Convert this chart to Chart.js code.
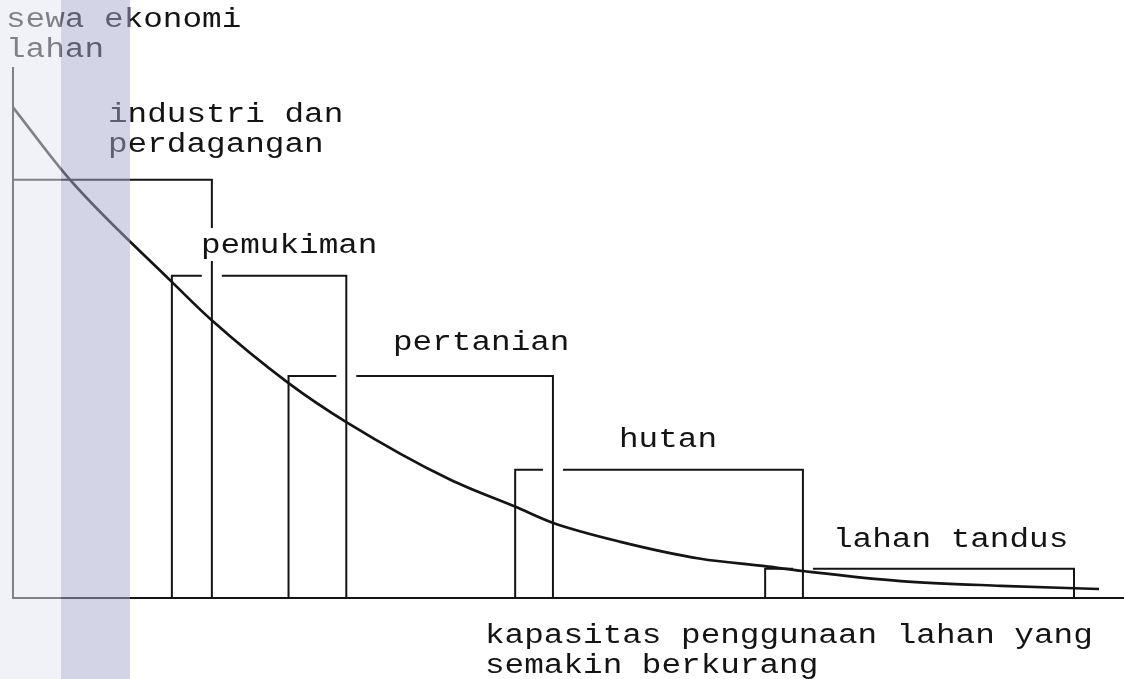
<!DOCTYPE html>
<html>
<head>
<meta charset="utf-8">
<title>sewa ekonomi lahan</title>
<script src="https://cdn.jsdelivr.net/npm/chart.js"></script>
<style>
  html, body { margin: 0; padding: 0; background: #fff; }
  #wrap { width: 1124px; height: 679px; }
</style>
</head>
<body>
<div id="wrap"><canvas id="rentChart" width="1124" height="679"></canvas></div>
<script>
// land uses from the city centre outwards
const landUses = ['industri dan perdagangan', 'pemukiman', 'pertanian', 'hutan', 'lahan tandus'];
const landUseLines = [['industri dan', 'perdagangan'], ['pemukiman'], ['pertanian'], ['hutan'], ['lahan tandus']];

// bid-rent blocks (x = distance, y = rent, both 0..100)
const barLeft  = [0, 14.3, 24.8, 45.2, 67.7];
const barRight = [17.9, 30.0, 48.6, 71.1, 95.5];
const barTop   = [78.9, 60.8, 41.9, 24.2, 5.5];

// economic rent curve
const curveX = [0, 5.14, 14.32, 17.84, 24.77, 30.0, 39.37, 45.23, 48.56, 54.68, 61.89, 67.66, 71.08, 79.91, 88.92, 97.75];
const curveY = [92.6, 78.9, 59.6, 52.5, 40.6, 33.2, 22.3, 17.2, 14.2, 10.6, 7.4, 6.0, 5.1, 3.2, 2.3, 1.7];

const yTitle = ['sewa ekonomi', 'lahan'];
const xTitle = ['kapasitas penggunaan lahan yang', 'semakin berkurang'];

// layout of the text (left edge, first baseline) in canvas pixels
const landUseAnchor = [[110, 122], [203, 253], [395, 350], [621, 447], [835, 547]];
const yTitleAnchor = [8, 27];
const xTitleAnchor = [487, 643];
const LINE_GAP = 30;
const FONT = '27px "Liberation Mono", "DejaVu Sans Mono", monospace';
const TEXT_STRETCH = 1.21;
const INK = '#141414';
const GAP = 0.9; // half width of the break in a block's top edge

// outline of each block, top edge broken where the previous block's side passes
function blockPoints(i) {
    const pts = [{x: barLeft[i], y: 0}, {x: barLeft[i], y: barTop[i]}];
    if (i > 0) {
        const cut = barRight[i - 1];
        pts.push({x: cut - GAP, y: barTop[i]});
        pts.push({x: cut, y: null});
        pts.push({x: cut + GAP, y: barTop[i]});
    }
    pts.push({x: barRight[i], y: barTop[i]});
    pts.push({x: barRight[i], y: 0});
    return pts;
}

const datasets = landUses.map((name, i) => ({
    label: name,
    data: blockPoints(i),
    borderColor: INK,
    borderWidth: 2,
    pointRadius: 0,
    tension: 0,
    spanGaps: false,
    borderJoinStyle: 'miter',
    borderCapStyle: 'butt'
}));

datasets.push({
    label: 'sewa ekonomi',
    data: curveX.map((x, i) => ({x, y: curveY[i]})),
    borderColor: INK,
    borderWidth: 2.7,
    pointRadius: 0,
    cubicInterpolationMode: 'monotone'
});

function stretchText(ctx, str, x, y) {
    ctx.save();
    ctx.translate(x, y);
    ctx.scale(TEXT_STRETCH, 1);
    ctx.fillText(str, 0, 0);
    ctx.restore();
}

function drawBlock(ctx, lines, x, y) {
    ctx.font = FONT;
    lines.forEach((line, k) => {
        const w = ctx.measureText(line).width * TEXT_STRETCH;
        ctx.fillStyle = '#fff';
        ctx.fillRect(x - 2, y + k * LINE_GAP - 25, w + 4, 33);
    });
    ctx.fillStyle = INK;
    ctx.textBaseline = 'alphabetic';
    lines.forEach((line, k) => stretchText(ctx, line, x - 2, y + k * LINE_GAP));
}

const textPlugin = {
    id: 'labels',
    afterDatasetsDraw(chart) {
        const ctx = chart.ctx;
        landUseLines.forEach((lines, i) => drawBlock(ctx, lines, landUseAnchor[i][0], landUseAnchor[i][1]));
        drawBlock(ctx, yTitle, yTitleAnchor[0], yTitleAnchor[1]);
        drawBlock(ctx, xTitle, xTitleAnchor[0], xTitleAnchor[1]);
    }
};

// the scan's watermark strips on the left edge
const stripPlugin = {
    id: 'strips',
    afterDraw(chart) {
        const ctx = chart.ctx;
        ctx.save();
        ctx.fillStyle = 'rgba(229,228,242,0.52)';
        ctx.fillRect(0, 0, 61, chart.height);
        ctx.fillStyle = 'rgba(167,172,206,0.5)';
        ctx.fillRect(61, 0, 69, chart.height);
        ctx.restore();
    }
};

const hidden = {
    type: 'linear',
    min: 0,
    max: 100,
    grid: { display: false, drawTicks: false },
    ticks: { display: false },
    border: { display: true, color: INK, width: 2 }
};

new Chart(document.getElementById('rentChart').getContext('2d'), {
    type: 'line',
    data: { datasets },
    options: {
        responsive: false,
        animation: false,
        layout: { padding: { left: 13, top: 68, right: 0, bottom: 81 } },
        plugins: { legend: { display: false }, tooltip: { enabled: false } },
        scales: {
            x: { ...hidden, position: 'bottom' },
            y: { ...hidden, position: 'left' }
        }
    },
    plugins: [textPlugin, stripPlugin]
});
</script>
</body>
</html>
